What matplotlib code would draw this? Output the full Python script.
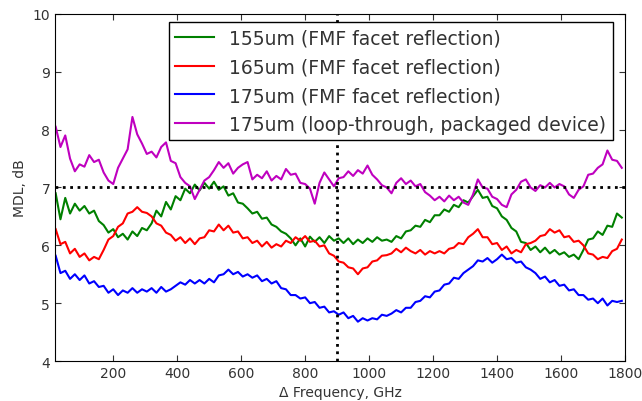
import numpy as np
import matplotlib
matplotlib.use("Agg")
import matplotlib.pyplot as plt

# sampling grid (GHz)
freq = np.arange(20, 1800, 15)

mdl_155 = [6.90, 6.45, 6.82, 6.55, 6.72, 6.60, 6.68, 6.55, 6.60, 6.42,
           6.35, 6.22, 6.28, 6.14, 6.20, 6.10, 6.24, 6.16, 6.30, 6.26,
           6.38, 6.60, 6.50, 6.75, 6.62, 6.85, 6.78, 6.98, 6.90, 7.05,
           6.95, 7.08, 6.98, 7.10, 6.96, 7.02, 6.86, 6.90, 6.74, 6.72,
           6.64, 6.55, 6.58, 6.46, 6.48, 6.36, 6.32, 6.24, 6.20, 6.12,
           6.00, 6.12, 5.98, 6.15, 6.06, 6.14, 6.04, 6.16, 6.08, 6.12,
           6.04, 6.12, 6.02, 6.10, 6.04, 6.12, 6.06, 6.14, 6.08, 6.10,
           6.06, 6.16, 6.12, 6.24, 6.26, 6.34, 6.32, 6.44, 6.40, 6.52,
           6.52, 6.62, 6.58, 6.70, 6.66, 6.78, 6.74, 6.85, 6.96, 6.82,
           6.84, 6.68, 6.64, 6.50, 6.44, 6.30, 6.24, 6.06, 6.04, 5.92,
           5.98, 5.88, 5.96, 5.86, 5.92, 5.84, 5.88, 5.80, 5.84, 5.76,
           5.92, 6.10, 6.12, 6.24, 6.18, 6.34, 6.32, 6.55, 6.48]

mdl_165 = [6.28, 6.02, 6.06, 5.86, 5.94, 5.80, 5.86, 5.74, 5.80, 5.76,
           5.92, 6.10, 6.16, 6.32, 6.38, 6.55, 6.58, 6.66, 6.58, 6.56,
           6.50, 6.38, 6.34, 6.22, 6.18, 6.08, 6.14, 6.04, 6.12, 6.02,
           6.12, 6.14, 6.26, 6.24, 6.36, 6.26, 6.34, 6.22, 6.24, 6.12,
           6.14, 6.04, 6.08, 5.98, 6.06, 5.96, 6.02, 5.98, 6.08, 6.04,
           6.14, 6.08, 6.16, 6.06, 6.08, 5.98, 6.00, 5.86, 5.82, 5.72,
           5.70, 5.62, 5.60, 5.50, 5.60, 5.62, 5.72, 5.74, 5.82, 5.83,
           5.86, 5.94, 5.88, 5.96, 5.90, 5.86, 5.92, 5.84, 5.90, 5.86,
           5.90, 5.86, 5.94, 5.96, 6.04, 6.02, 6.14, 6.20, 6.28, 6.14,
           6.14, 6.02, 6.04, 5.92, 5.98, 5.86, 5.92, 5.88, 6.02, 6.04,
           6.08, 6.16, 6.18, 6.28, 6.22, 6.26, 6.14, 6.16, 6.06, 6.08,
           6.00, 5.86, 5.84, 5.76, 5.80, 5.78, 5.90, 5.94, 6.10]

mdl_175 = [5.82, 5.52, 5.56, 5.42, 5.50, 5.40, 5.48, 5.34, 5.38, 5.28,
           5.30, 5.18, 5.24, 5.14, 5.22, 5.18, 5.26, 5.18, 5.24, 5.20,
           5.26, 5.18, 5.28, 5.20, 5.24, 5.30, 5.36, 5.32, 5.40, 5.34,
           5.40, 5.34, 5.42, 5.36, 5.48, 5.50, 5.58, 5.50, 5.54, 5.46,
           5.50, 5.44, 5.48, 5.38, 5.42, 5.34, 5.38, 5.26, 5.24, 5.14,
           5.14, 5.08, 5.10, 5.00, 5.02, 4.92, 4.94, 4.84, 4.86, 4.80,
           4.84, 4.74, 4.78, 4.68, 4.74, 4.70, 4.74, 4.72, 4.80, 4.78,
           4.82, 4.88, 4.84, 4.92, 4.92, 5.02, 5.04, 5.12, 5.10, 5.20,
           5.22, 5.32, 5.34, 5.44, 5.42, 5.52, 5.58, 5.64, 5.74, 5.72,
           5.78, 5.70, 5.76, 5.84, 5.76, 5.78, 5.70, 5.72, 5.62, 5.58,
           5.52, 5.42, 5.46, 5.36, 5.40, 5.30, 5.32, 5.22, 5.24, 5.14,
           5.14, 5.06, 5.08, 5.00, 5.08, 4.96, 5.04, 5.02, 5.04]

mdl_loop = [8.05, 7.70, 7.90, 7.50, 7.28, 7.40, 7.36, 7.56, 7.44, 7.48,
            7.26, 7.12, 7.06, 7.34, 7.50, 7.66, 8.22, 7.92, 7.76, 7.58,
            7.62, 7.52, 7.70, 7.78, 7.46, 7.42, 7.18, 7.08, 7.02, 6.80,
            6.96, 7.12, 7.18, 7.30, 7.44, 7.34, 7.42, 7.24, 7.34, 7.40,
            7.44, 7.14, 7.22, 7.16, 7.28, 7.12, 7.20, 7.14, 7.32, 7.22,
            7.24, 7.08, 7.06, 6.98, 6.72, 7.08, 7.26, 7.14, 7.02, 7.16,
            7.18, 7.28, 7.20, 7.30, 7.24, 7.38, 7.22, 7.14, 7.04, 7.00,
            6.90, 7.08, 7.16, 7.06, 7.12, 7.02, 7.06, 6.92, 6.86, 6.78,
            6.84, 6.76, 6.86, 6.78, 6.84, 6.74, 6.70, 6.88, 7.14, 7.00,
            6.98, 6.84, 6.80, 6.70, 6.66, 6.88, 6.96, 7.10, 7.14, 7.00,
            6.94, 7.04, 7.00, 7.08, 7.00, 7.06, 7.02, 6.88, 6.82, 6.96,
            7.02, 7.22, 7.24, 7.34, 7.40, 7.64, 7.48, 7.46, 7.34]

labels = ["155um (FMF facet reflection)",
          "165um (FMF facet reflection)",
          "175um (FMF facet reflection)",
          "175um (loop-through, packaged device)"]
colors = ["g", "r", "b", "m"]

fig = plt.figure(figsize=(6.42, 4.02), dpi=100)
ax = fig.add_axes([0.0857, 0.0995, 0.8878, 0.8632])

for y, lab, c in zip([mdl_155, mdl_165, mdl_175, mdl_loop], labels, colors):
    ax.plot(freq, y, color=c, linewidth=1.5, label=lab)

ax.axhline(7, color="k", linestyle=":", linewidth=2)
ax.axvline(900, color="k", linestyle=":", linewidth=2)

ax.set_xlim(18, 1800)
ax.set_ylim(4, 10)
ax.set_xticks(np.arange(200, 1801, 200))
ax.set_yticks(np.arange(4, 11, 1))
ax.tick_params(direction="in", top=True, right=True, labelsize=10,
               length=4, colors="#333333", labelcolor="#333333")
for s in ax.spines.values():
    s.set_color("black")
ax.set_xlabel("Δ Frequency, GHz", fontsize=10, color="#333333")
ax.set_ylabel("MDL, dB", fontsize=10, color="#333333")

leg = ax.legend(loc="upper right", bbox_to_anchor=(0.979, 0.977),
                borderaxespad=0, fontsize=13.5, fancybox=False,
                framealpha=1, edgecolor="black", handlelength=2.1,
                handletextpad=0.8, borderpad=0.35, labelspacing=0.52)
for t in leg.get_texts():
    t.set_color("#333333")

plt.savefig("out.png", dpi=100)
